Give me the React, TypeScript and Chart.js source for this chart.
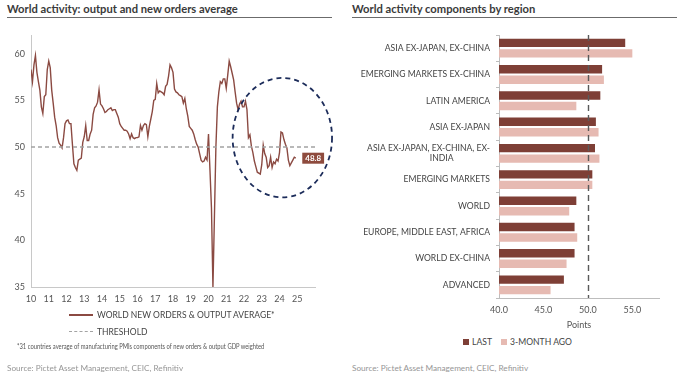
import React, { useEffect, useRef } from 'react';
import { Chart, registerables } from 'chart.js';

Chart.register(...registerables);

// ---------- Left chart data ----------
const START_YEAR = 2010;
const END_YEAR = 2026;
// Monthly values, Jan 2010 .. Dec 2024
const WORLD_AVERAGE = [
  58.3, 57.0, 58.8, 59.8, 58.0, 57.0, 56.1, 54.3, 53.6, 55.4, 55.6, 58.3,
  59.2, 58.5, 56.1, 54.7, 53.2, 52.3, 51.0, 50.4, 50.2, 49.9, 51.0, 52.5,
  52.8, 52.9, 52.5, 52.5, 50.3, 48.2, 47.8, 47.5, 48.6, 48.7, 48.8, 50.5,
  51.1, 52.3, 50.7, 50.7, 51.4, 51.8, 53.5, 54.2, 54.4, 54.8, 56.1, 54.6,
  54.4, 54.1, 53.7, 53.8, 54.0, 54.1, 54.2, 53.9, 54.0, 54.0, 53.6, 53.2,
  52.5, 52.2, 52.0, 51.8, 51.8, 51.7, 51.4, 50.9, 51.4, 51.0, 50.9, 51.0,
  51.0, 51.1, 52.3, 51.8, 52.3, 52.5, 52.4, 51.1, 52.2, 53.0, 53.8, 55.0,
  55.1, 56.8, 55.8, 56.0, 55.9, 55.8, 55.6, 56.5, 56.7, 57.6, 58.8, 58.5,
  58.0, 56.2, 55.9, 55.8, 55.6, 55.5, 55.4, 54.7, 55.2, 54.1, 53.3, 52.2,
  52.0, 51.8, 51.4, 50.8, 50.3, 50.0, 49.3, 48.6, 48.4, 48.5, 48.9, 48.6,
  51.4, 47.5, 43.5, 35.0, 42.5, 50.0, 54.3, 55.9, 57.0, 56.8, 57.3, 57.3,
  56.3, 57.7, 59.2, 58.6, 57.9, 57.2, 55.9, 54.7, 54.0, 54.6, 54.9, 54.3,
  54.3, 54.9, 54.0, 51.0, 51.3, 50.1, 49.4, 48.5, 47.9, 47.3, 47.2, 47.1,
  48.1, 50.2, 49.3, 48.9, 47.8, 48.0, 48.9, 47.8, 48.4, 48.2, 48.7, 48.5,
  49.4, 51.6, 51.5, 50.8, 50.3, 49.9, 48.6, 48.0, 48.3, 48.6, 48.9, 48.8,
];
const THRESHOLD = 50;
const LEFT_Y_MIN = 35;
const LEFT_Y_MAX = 62;
const LAST_VALUE_LABEL = '48.8';
// Highlight ellipse (in data units)
const HIGHLIGHT_CENTER_YEAR = 2024.16;
const HIGHLIGHT_CENTER_VALUE = 51.0;
const HIGHLIGHT_HALF_YEARS = 2.8;
const HIGHLIGHT_HALF_VALUE = 6.4;

// ---------- Right chart data ----------
const REGIONS: (string | string[])[] = [
  'ASIA EX-JAPAN, EX-CHINA',
  'EMERGING MARKETS EX-CHINA',
  'LATIN AMERICA',
  'ASIA EX-JAPAN',
  ['ASIA EX-JAPAN, EX-CHINA, EX-', 'INDIA\u2003\u2003\u2003\u2003\u2003\u2002'],
  'EMERGING MARKETS',
  'WORLD',
  'EUROPE, MIDDLE EAST, AFRICA',
  'WORLD EX-CHINA',
  'ADVANCED',
];
const LAST = [54.2, 51.6, 51.4, 50.9, 50.8, 50.5, 48.7, 48.5, 48.5, 47.3];
const THREE_MONTH_AGO = [55.0, 51.8, 48.7, 51.2, 51.3, 50.5, 47.9, 48.8, 47.6, 45.8];
const RIGHT_X_MIN = 40;
const RIGHT_X_MAX = 58;

const LINE_COLOR = '#8b4a42';
const LAST_COLOR = '#7e3f36';
const PREV_COLOR = '#e6bab2';
const FONT = 'Lato, "Open Sans", sans-serif';

Chart.defaults.font.family = FONT;

function LeftChart() {
  const ref = useRef<HTMLCanvasElement | null>(null);
  useEffect(() => {
    if (!ref.current) return;
    const points = WORLD_AVERAGE.map((v, i) => ({ x: START_YEAR + i / 12, y: v }));
    const lastPoint = points[points.length - 1];
    const overlay = {
      id: 'overlay',
      afterDatasetsDraw(chart: any) {
        const { ctx, scales } = chart;
        const xs = scales.x;
        const ys = scales.y;
        const px = xs.getPixelForValue(lastPoint.x);
        const py = ys.getPixelForValue(lastPoint.y);
        ctx.save();
        ctx.font = `bold 8px ${FONT}`;
        const w = ctx.measureText(LAST_VALUE_LABEL).width + 6;
        ctx.fillStyle = '#8e4b3e';
        ctx.fillRect(px + 6.5, py - 5.5, w, 11);
        ctx.fillStyle = '#ffffff';
        ctx.textAlign = 'left';
        ctx.textBaseline = 'middle';
        ctx.fillText(LAST_VALUE_LABEL, px + 9.5, py + 0.5);
        const cx = xs.getPixelForValue(HIGHLIGHT_CENTER_YEAR);
        const cy = ys.getPixelForValue(HIGHLIGHT_CENTER_VALUE);
        const rx = xs.getPixelForValue(HIGHLIGHT_CENTER_YEAR + HIGHLIGHT_HALF_YEARS) - cx;
        const ry = cy - ys.getPixelForValue(HIGHLIGHT_CENTER_VALUE + HIGHLIGHT_HALF_VALUE);
        ctx.beginPath();
        ctx.setLineDash([5, 4]);
        ctx.lineWidth = 1.8;
        ctx.strokeStyle = '#1c2c5a';
        ctx.ellipse(cx, cy, rx, ry, 0, 0, Math.PI * 2);
        ctx.stroke();
        ctx.restore();
      },
    };
    const chart = new Chart(ref.current, {
      type: 'line',
      data: {
        datasets: [
          {
            label: 'THRESHOLD',
            data: [
              { x: START_YEAR, y: THRESHOLD },
              { x: END_YEAR, y: THRESHOLD },
            ],
            borderColor: '#a3a3a3',
            borderWidth: 1.3,
            borderDash: [4, 3],
            pointRadius: 0,
          },
          {
            label: 'WORLD NEW ORDERS & OUTPUT AVERAGE*',
            data: points,
            borderColor: LINE_COLOR,
            borderWidth: 1.4,
            pointRadius: 0,
            tension: 0,
          },
        ],
      },
      options: {
        animation: false,
        responsive: false,
        layout: { padding: { left: 0, top: 35, right: 25, bottom: 0 } },
        plugins: { legend: { display: false }, tooltip: { enabled: false } },
        scales: {
          x: {
            type: 'linear',
            min: START_YEAR,
            max: END_YEAR,
            grid: { display: false, drawTicks: false },
            border: { display: true, color: '#c8c8c8', width: 1 },
            ticks: {
              stepSize: 1,
              autoSkip: false,
              maxRotation: 0,
              padding: 7,
              color: '#555',
              font: { size: 9 },
              callback: (v: any) => (Number(v) >= END_YEAR ? '' : String(Number(v) - 2000)),
            },
            afterFit: (s: any) => {
              s.height = 28;
            },
          },
          y: {
            min: LEFT_Y_MIN,
            max: LEFT_Y_MAX,
            grid: { display: false, drawTicks: false },
            border: { display: true, color: '#c8c8c8', width: 1 },
            ticks: {
              stepSize: 5,
              includeBounds: false,
              padding: 6,
              color: '#555',
              font: { size: 9 },
            },
            afterFit: (s: any) => {
              s.width = 31;
            },
          },
        },
      },
      plugins: [overlay],
    });
    return () => chart.destroy();
  }, []);
  return (
    <canvas
      ref={ref}
      width={340}
      height={315}
      style={{ position: 'absolute', left: 0, top: 0, width: 340, height: 315 }}
    />
  );
}

function RightChart() {
  const ref = useRef<HTMLCanvasElement | null>(null);
  useEffect(() => {
    if (!ref.current) return;
    const thresholdLine = {
      id: 'thresholdLine',
      afterDatasetsDraw(chart: any) {
        const { ctx, scales, chartArea } = chart;
        const x = Math.round(scales.x.getPixelForValue(THRESHOLD)) + 0.5;
        ctx.save();
        ctx.beginPath();
        ctx.setLineDash([6, 4]);
        ctx.lineWidth = 1.4;
        ctx.strokeStyle = '#5a5a5a';
        ctx.moveTo(x, chartArea.top);
        ctx.lineTo(x, chartArea.bottom);
        ctx.stroke();
        ctx.restore();
      },
    };
    const chart = new Chart(ref.current, {
      type: 'bar',
      data: {
        labels: REGIONS,
        datasets: [
          {
            label: 'LAST',
            data: LAST,
            backgroundColor: LAST_COLOR,
            categoryPercentage: 0.8,
            barPercentage: 0.8,
          },
          {
            label: '3-MONTH AGO',
            data: THREE_MONTH_AGO,
            backgroundColor: PREV_COLOR,
            categoryPercentage: 0.8,
            barPercentage: 0.8,
          },
        ],
      },
      options: {
        indexAxis: 'y',
        animation: false,
        responsive: false,
        layout: { padding: { left: 0, top: 35, right: 20, bottom: 0 } },
        plugins: { legend: { display: false }, tooltip: { enabled: false } },
        scales: {
          x: {
            min: RIGHT_X_MIN,
            max: RIGHT_X_MAX,
            grid: { display: false, drawTicks: false },
            border: { display: true, color: '#bdbdbd', width: 1 },
            ticks: {
              stepSize: 5,
              includeBounds: false,
              padding: 7,
              color: '#555',
              font: { size: 9 },
              callback: (v: any) => Number(v).toFixed(1),
            },
            title: {
              display: true,
              text: 'Points',
              color: '#555',
              font: { size: 9 },
              padding: { top: 0, bottom: 4.5 },
            },
            afterFit: (s: any) => {
              s.height = 37;
            },
          },
          y: {
            grid: {
              display: true,
              drawOnChartArea: false,
              drawTicks: true,
              tickLength: 3,
              color: '#bdbdbd',
            },
            border: { display: true, color: '#bdbdbd', width: 1 },
            ticks: {
              padding: 6,
              color: '#444',
              font: { size: 8.6 },
              autoSkip: false,
            },
            afterFit: (s: any) => {
              s.width = 159;
            },
          },
        },
      },
      plugins: [thresholdLine],
    });
    return () => chart.destroy();
  }, []);
  return (
    <canvas
      ref={ref}
      width={339}
      height={335}
      style={{ position: 'absolute', left: 340, top: 0, width: 339, height: 335 }}
    />
  );
}

const txt = (extra: React.CSSProperties): React.CSSProperties => ({
  position: 'absolute',
  whiteSpace: 'nowrap',
  fontFamily: FONT,
  ...extra,
});

export default function App() {
  return (
    <div
      style={{
        position: 'fixed',
        left: 0,
        top: 0,
        width: 679,
        height: 377,
        background: '#ffffff',
        overflow: 'hidden',
      }}
    >
      {/* Titles */}
      <div style={txt({ left: 7, top: 2, fontSize: 11.2, fontWeight: 700, color: '#3a3a3a', lineHeight: '13px' })}>
        World activity: output and new orders average
      </div>
      <div style={{ position: 'absolute', left: 7, top: 16.5, width: 325, height: 1.5, background: '#6b6b6b' }} />
      <div style={txt({ left: 352, top: 2, fontSize: 11.2, fontWeight: 700, color: '#3a3a3a', lineHeight: '13px' })}>
        World activity components by region
      </div>
      <div style={{ position: 'absolute', left: 352, top: 16.5, width: 325, height: 1.5, background: '#6b6b6b' }} />

      <LeftChart />
      <RightChart />

      {/* Left legend */}
      <div style={{ position: 'absolute', left: 69, top: 314, width: 24, height: 0, borderTop: `2px solid ${LINE_COLOR}` }} />
      <div style={txt({ left: 97, top: 309, fontSize: 8.5, color: '#444', lineHeight: '12px' })}>
        WORLD NEW ORDERS &amp; OUTPUT AVERAGE*
      </div>
      <div style={{ position: 'absolute', left: 69, top: 331, width: 24, height: 0, borderTop: '1.5px dashed #a3a3a3' }} />
      <div style={txt({ left: 97, top: 325.5, fontSize: 8.5, color: '#444', lineHeight: '12px' })}>THRESHOLD</div>
      <div
        style={txt({
          left: 17,
          top: 341,
          fontSize: 7,
          color: '#555',
          lineHeight: '10px',
          transform: 'scaleX(0.83)',
          transformOrigin: 'left center',
        })}
      >
        *31 countries average of manufacturing PMIs components of new orders &amp; output GDP weighted
      </div>
      <div style={txt({ left: 7, top: 363, fontSize: 8.2, color: '#969696', lineHeight: '10px' })}>
        Source: Pictet Asset Management, CEIC, Refinitiv
      </div>

      {/* Right legend */}
      <div style={{ position: 'absolute', left: 463, top: 339, width: 6, height: 6, background: LAST_COLOR }} />
      <div style={txt({ left: 472, top: 336, fontSize: 8.6, color: '#444', lineHeight: '12px' })}>LAST</div>
      <div style={{ position: 'absolute', left: 501, top: 339, width: 6, height: 6, background: PREV_COLOR }} />
      <div style={txt({ left: 510, top: 336, fontSize: 8.6, color: '#444', lineHeight: '12px' })}>3-MONTH AGO</div>
      <div style={txt({ left: 352, top: 363, fontSize: 8.2, color: '#969696', lineHeight: '10px' })}>
        Source: Pictet Asset Management, CEIC, Refinitiv
      </div>
    </div>
  );
}
